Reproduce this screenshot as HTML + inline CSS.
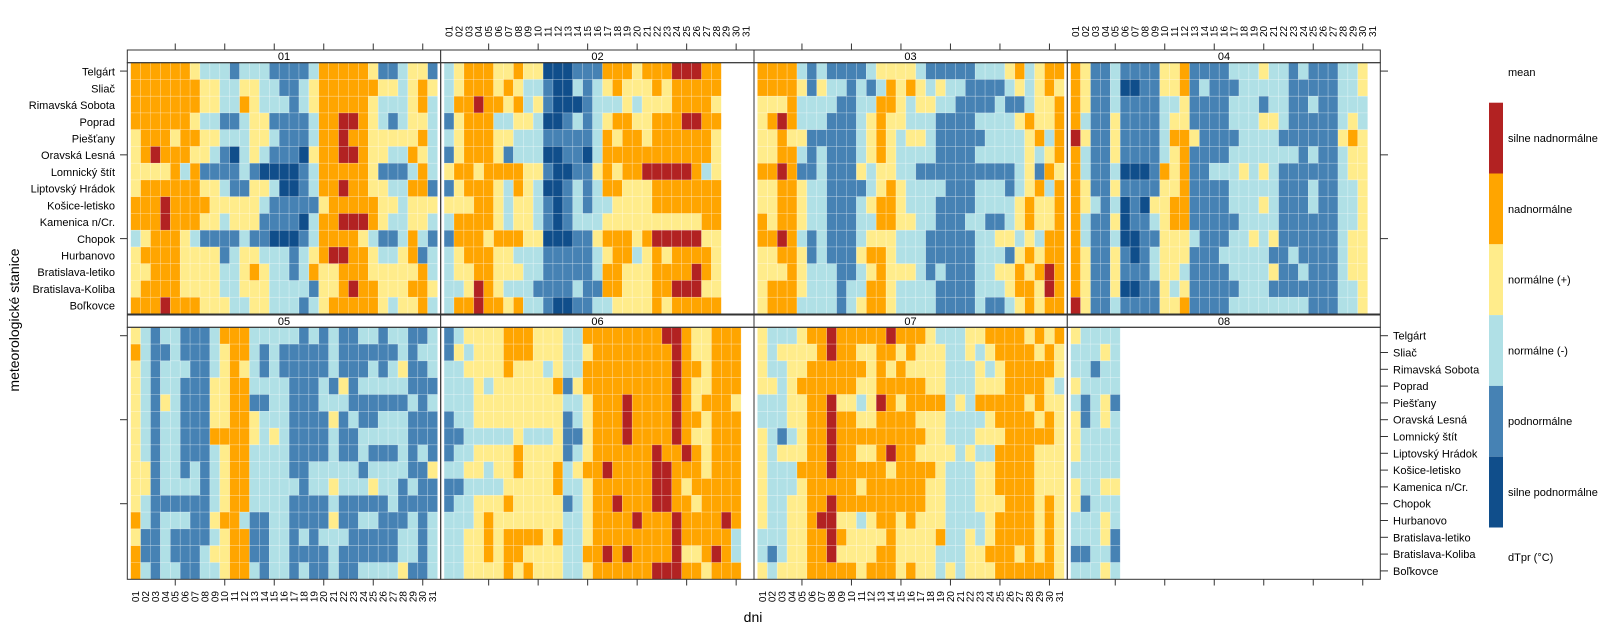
<!DOCTYPE html>
<html><head><meta charset="utf-8"><style>
html,body{margin:0;padding:0;background:#fff;}
svg{display:block;font-family:"Liberation Sans",sans-serif;}
.sl{font-size:11px;fill:#000;}
.dl{font-size:10px;fill:#000;}
</style></head><body>
<svg id="s" width="1600" height="640" xmlns="http://www.w3.org/2000/svg">
<g id="cells"></g>
<g id="frames"></g>
<!-- strips text -->
<g class="sl" text-anchor="middle">
<text x="284" y="60">01</text><text x="597.5" y="60">02</text><text x="910.5" y="60">03</text><text x="1224" y="60">04</text>
<text x="284" y="325">05</text><text x="597.5" y="325">06</text><text x="910.5" y="325">07</text><text x="1224" y="325">08</text>
</g>
<!-- left station labels (top row) -->
<g class="sl" text-anchor="end">
<text x="115" y="75.7">Telgárt</text><text x="115" y="92.4">Sliač</text><text x="115" y="109.1">Rimavská Sobota</text><text x="115" y="125.8">Poprad</text><text x="115" y="142.5">Piešťany</text><text x="115" y="159.2">Oravská Lesná</text><text x="115" y="176">Lomnický štít</text><text x="115" y="192.7">Liptovský Hrádok</text><text x="115" y="209.4">Košice-letisko</text><text x="115" y="226.1">Kamenica n/Cr.</text><text x="115" y="242.8">Chopok</text><text x="115" y="259.5">Hurbanovo</text><text x="115" y="276.2">Bratislava-letiko</text><text x="115" y="292.9">Bratislava-Koliba</text><text x="115" y="309.6">Boľkovce</text>
</g>
<!-- right station labels (bottom row) -->
<g class="sl" text-anchor="start">
<text x="1393" y="339.7">Telgárt</text><text x="1393" y="356.5">Sliač</text><text x="1393" y="373.3">Rimavská Sobota</text><text x="1393" y="390.1">Poprad</text><text x="1393" y="406.9">Piešťany</text><text x="1393" y="423.7">Oravská Lesná</text><text x="1393" y="440.5">Lomnický štít</text><text x="1393" y="457.3">Liptovský Hrádok</text><text x="1393" y="474.1">Košice-letisko</text><text x="1393" y="490.9">Kamenica n/Cr.</text><text x="1393" y="507.7">Chopok</text><text x="1393" y="524.5">Hurbanovo</text><text x="1393" y="541.3">Bratislava-letiko</text><text x="1393" y="558.1">Bratislava-Koliba</text><text x="1393" y="574.9">Boľkovce</text>
</g>
<!-- top day labels panel 02 -->
<g class="dl" text-anchor="start" transform="translate(449.05,37) rotate(-90)">
<text x="0" y="3.5">01</text><text x="0" y="13.4">02</text><text x="0" y="23.3">03</text><text x="0" y="33.2">04</text><text x="0" y="43.1">05</text><text x="0" y="53">06</text><text x="0" y="62.9">07</text><text x="0" y="72.8">08</text><text x="0" y="82.7">09</text><text x="0" y="92.6">10</text><text x="0" y="102.5">11</text><text x="0" y="112.4">12</text><text x="0" y="122.3">13</text><text x="0" y="132.2">14</text><text x="0" y="142.1">15</text><text x="0" y="152">16</text><text x="0" y="161.9">17</text><text x="0" y="171.8">18</text><text x="0" y="181.7">19</text><text x="0" y="191.6">20</text><text x="0" y="201.5">21</text><text x="0" y="211.4">22</text><text x="0" y="221.3">23</text><text x="0" y="231.2">24</text><text x="0" y="241.1">25</text><text x="0" y="251">26</text><text x="0" y="260.9">27</text><text x="0" y="270.8">28</text><text x="0" y="280.7">29</text><text x="0" y="290.6">30</text><text x="0" y="300.5">31</text>
</g>
<!-- top day labels panel 04 -->
<g class="dl" text-anchor="start" transform="translate(1075.65,37) rotate(-90)">
<text x="0" y="3.5">01</text><text x="0" y="13.4">02</text><text x="0" y="23.3">03</text><text x="0" y="33.2">04</text><text x="0" y="43.1">05</text><text x="0" y="53">06</text><text x="0" y="62.9">07</text><text x="0" y="72.8">08</text><text x="0" y="82.7">09</text><text x="0" y="92.6">10</text><text x="0" y="102.5">11</text><text x="0" y="112.4">12</text><text x="0" y="122.3">13</text><text x="0" y="132.2">14</text><text x="0" y="142.1">15</text><text x="0" y="152">16</text><text x="0" y="161.9">17</text><text x="0" y="171.8">18</text><text x="0" y="181.7">19</text><text x="0" y="191.6">20</text><text x="0" y="201.5">21</text><text x="0" y="211.4">22</text><text x="0" y="221.3">23</text><text x="0" y="231.2">24</text><text x="0" y="241.1">25</text><text x="0" y="251">26</text><text x="0" y="260.9">27</text><text x="0" y="270.8">28</text><text x="0" y="280.7">29</text><text x="0" y="290.6">30</text><text x="0" y="300.5">31</text>
</g>
<!-- bottom day labels panel 05 -->
<g class="dl" text-anchor="end" transform="translate(135.65,591) rotate(-90)">
<text x="0" y="3.5">01</text><text x="0" y="13.4">02</text><text x="0" y="23.3">03</text><text x="0" y="33.2">04</text><text x="0" y="43.1">05</text><text x="0" y="53">06</text><text x="0" y="62.9">07</text><text x="0" y="72.8">08</text><text x="0" y="82.7">09</text><text x="0" y="92.6">10</text><text x="0" y="102.5">11</text><text x="0" y="112.4">12</text><text x="0" y="122.3">13</text><text x="0" y="132.2">14</text><text x="0" y="142.1">15</text><text x="0" y="152">16</text><text x="0" y="161.9">17</text><text x="0" y="171.8">18</text><text x="0" y="181.7">19</text><text x="0" y="191.6">20</text><text x="0" y="201.5">21</text><text x="0" y="211.4">22</text><text x="0" y="221.3">23</text><text x="0" y="231.2">24</text><text x="0" y="241.1">25</text><text x="0" y="251">26</text><text x="0" y="260.9">27</text><text x="0" y="270.8">28</text><text x="0" y="280.7">29</text><text x="0" y="290.6">30</text><text x="0" y="300.5">31</text>
</g>
<!-- bottom day labels panel 07 -->
<g class="dl" text-anchor="end" transform="translate(762.35,591) rotate(-90)">
<text x="0" y="3.5">01</text><text x="0" y="13.4">02</text><text x="0" y="23.3">03</text><text x="0" y="33.2">04</text><text x="0" y="43.1">05</text><text x="0" y="53">06</text><text x="0" y="62.9">07</text><text x="0" y="72.8">08</text><text x="0" y="82.7">09</text><text x="0" y="92.6">10</text><text x="0" y="102.5">11</text><text x="0" y="112.4">12</text><text x="0" y="122.3">13</text><text x="0" y="132.2">14</text><text x="0" y="142.1">15</text><text x="0" y="152">16</text><text x="0" y="161.9">17</text><text x="0" y="171.8">18</text><text x="0" y="181.7">19</text><text x="0" y="191.6">20</text><text x="0" y="201.5">21</text><text x="0" y="211.4">22</text><text x="0" y="221.3">23</text><text x="0" y="231.2">24</text><text x="0" y="241.1">25</text><text x="0" y="251">26</text><text x="0" y="260.9">27</text><text x="0" y="270.8">28</text><text x="0" y="280.7">29</text><text x="0" y="290.6">30</text><text x="0" y="300.5">31</text>
</g>
<!-- axis titles -->
<text x="753" y="622" text-anchor="middle" style="font-size:14px">dni</text>
<text transform="translate(19,320) rotate(-90)" text-anchor="middle" style="font-size:14px">meteorologické stanice</text>
<!-- legend -->
<rect x="1489" y="102.7" width="14" height="70.8" fill="#b22222"/>
<rect x="1489" y="173.5" width="14" height="70.8" fill="#ffa500"/>
<rect x="1489" y="244.3" width="14" height="70.8" fill="#ffec8b"/>
<rect x="1489" y="315.1" width="14" height="70.8" fill="#b0e0e6"/>
<rect x="1489" y="385.9" width="14" height="70.8" fill="#4682b4"/>
<rect x="1489" y="456.7" width="14" height="70.8" fill="#104e8b"/>
<g class="sl">
<text x="1508" y="76">mean</text>
<text x="1508" y="142">silne nadnormálne</text>
<text x="1508" y="212.8">nadnormálne</text>
<text x="1508" y="283.6">normálne (+)</text>
<text x="1508" y="354.4">normálne (-)</text>
<text x="1508" y="425.2">podnormálne</text>
<text x="1508" y="496">silne podnormálne</text>
<text x="1508" y="561">dTpr (°C)</text>
</g>
</svg>
<script>
var C={1:"#104e8b",2:"#4682b4",3:"#b0e0e6",4:"#ffec8b",5:"#ffa500",6:"#b22222"};
var D=[
["5555554333233322223555554223442","5555555443344332234555555443454","5555555443354333234555554333453","5555554332234422223556654323443","4555455443334432223556554444453","4565554432134322214556654433543","4444535222232111123555554222353","4555555443224431123556554433552","5556555544444322222455555443444","5556555443444222213556665433443","3455543222232211123555543223532","4555544442344333234566554334523","4455544443345433235445554444453","4555544443344433332445655444554","5556555444334433323455555434453"],
["3455544544111222555455566655","3455545433211323454445455555","3556554534211123334344455554","2455533443112323455445556655","3455544333222223545545555554","2455542333112213555555555554","4554555544211224545566666534","2455543543112323554445555555","4445543443212323344445555555","3555543443212333444444444455","2555455544111224555456666644","3455544333222223455345455554","3445544433222223554445555654","3346543332222322554445566644","3556554533211223344445455555"],
["5555323222234444322222333453455","5555424332323545434332222343454","4445333322335543443322223223445","4565333222345443332222333345445","4454422222345434432222233334535","4455323222345433332222333334345","5565223222434433222222222234254","4455433222234543333222333234535","4455433222345543332222333345445","5455433222335544332223322345445","5565323222344433322222334434355","4455423222455433322222333245455","4445433322345444323222334454565","4555433323355433332222333455465","4555333323455433332222322345455"],
["542232222445222233343323222334","542231122445232223333322222334","542232222334222233323322322333","532242222344222233344322222343","642242222355422223333222222454","532242222345222233333332322344","532231112545223334343222222344","542242222445222233333222322334","543231214455222233343222322334","532241223455222223333222222334","532231122444322233434222222344","542242123444222333332232222344","542242223443222233334223222344","542241122434222223332222222334","642232222445222233333333222334"],
["4323322235553333323232233233223","5322322234553232222232222223233","4323332234543232222232223234223","4323322244553333222324233333222","4324322244552233222333222222323","4323322244554333222242322333222","4323322255554343222232233333222","4323322234553333222232232223232","4423323234553333223333323333224","4423333234553333323343334332322","4322222234553333222232222232222","5323332245532233222242233222323","4223222234552233232333222223323","5223222344552233222232222223323","5323322334553233232232233334223"],
["234444555444335555555566544555","243444555444334555555556544555","334444544434335555555556554555","333434444445245555555556544555","333444444444334555655556545554","233444444444234555655556554555","223333343334224555655556544555","233444454444234555555655654555","334434454445345565555665554555","223333444445334555555665455555","233444544444234556555665545555","333454444444334555565556555565","334454555545334555555556555553","334454554444335565655556445653","334444545444334555555666554555"],
["4333455655555655543334455554545","4344445655445545444334345555454","4334455555545454444333434555554","4434555555445555544333444555543","3334455644346545555343555554544","3334455655445555444333345555454","4323455655555555544333444555554","4344455655445655444434335555444","4333555655555455554333445555444","4333455555455555544333445555444","4334455655555555544333444555454","4334456644345545444333345555454","3334455654444544445334345555454","3234455644445544443334455545454","4344455555455545443434445555554"],
["43333","33343","33233","43333","32342","42343","43333","43333","33333","43344","42333","33343","33342","22332","33343"]
];
var ND=[31,28,31,30,31,30,31,5];
var L=[127.3,440.7,754,1067.3], R=1380.3;
var TOP=[[50,62.7,314],[315,327.3,579.3]];
var cw=9.9, ns="http://www.w3.org/2000/svg";
var cells=document.getElementById("cells"), fr=document.getElementById("frames");
function el(p,t,a){var e=document.createElementNS(ns,t);for(var k in a)e.setAttribute(k,a[k]);p.appendChild(e);return e;}
for(var p=0;p<8;p++){
  var col=p%4,row=p<4?0:1,x0=L[col]+3.4,y0=TOP[row][1],rh=(TOP[row][2]-y0)/15;
  for(var i=0;i<15;i++){var s=D[p][i];
    for(var d=0;d<ND[p];d++){var c=s.charAt(Math.min(d,s.length-1));
      el(cells,"rect",{x:(x0+d*cw).toFixed(2),y:(y0+i*rh).toFixed(2),width:cw,height:rh.toFixed(2),fill:C[c],stroke:"#ffffff","stroke-opacity":"0.35","stroke-width":"0.6"});}}
}
for(var row=0;row<2;row++){
  var t=TOP[row];
  for(var col=0;col<4;col++){
    var xl=L[col], xr=col<3?L[col+1]:R;
    el(fr,"rect",{x:xl,y:t[0],width:xr-xl,height:t[1]-t[0],fill:"#fff",stroke:"#333","stroke-width":"1"});
    el(fr,"rect",{x:xl,y:t[1],width:xr-xl,height:t[2]-t[1],fill:"none",stroke:"#333","stroke-width":"1"});
    for(var k=5;k<=30;k+=5){var xx=xl+3.4+(k-0.5)*cw;
      if(row==0)el(fr,"line",{x1:xx,x2:xx,y1:43.5,y2:50,stroke:"#333"});
      else el(fr,"line",{x1:xx,x2:xx,y1:579.3,y2:585.5,stroke:"#333"});}
  }
  var rh=(t[2]-t[1])/15;
  for(var i=0;i<15;i++){var yy=t[1]+(i+0.5)*rh;
    if(i%5==0){el(fr,"line",{x1:120,x2:127.3,y1:yy,y2:yy,stroke:"#333"});
      if(row==0)el(fr,"line",{x1:1380.3,x2:1388,y1:yy,y2:yy,stroke:"#333"});}
    if(row==1)el(fr,"line",{x1:1380.3,x2:1388,y1:yy,y2:yy,stroke:"#333"});
  }
}
</script>
</body></html>
